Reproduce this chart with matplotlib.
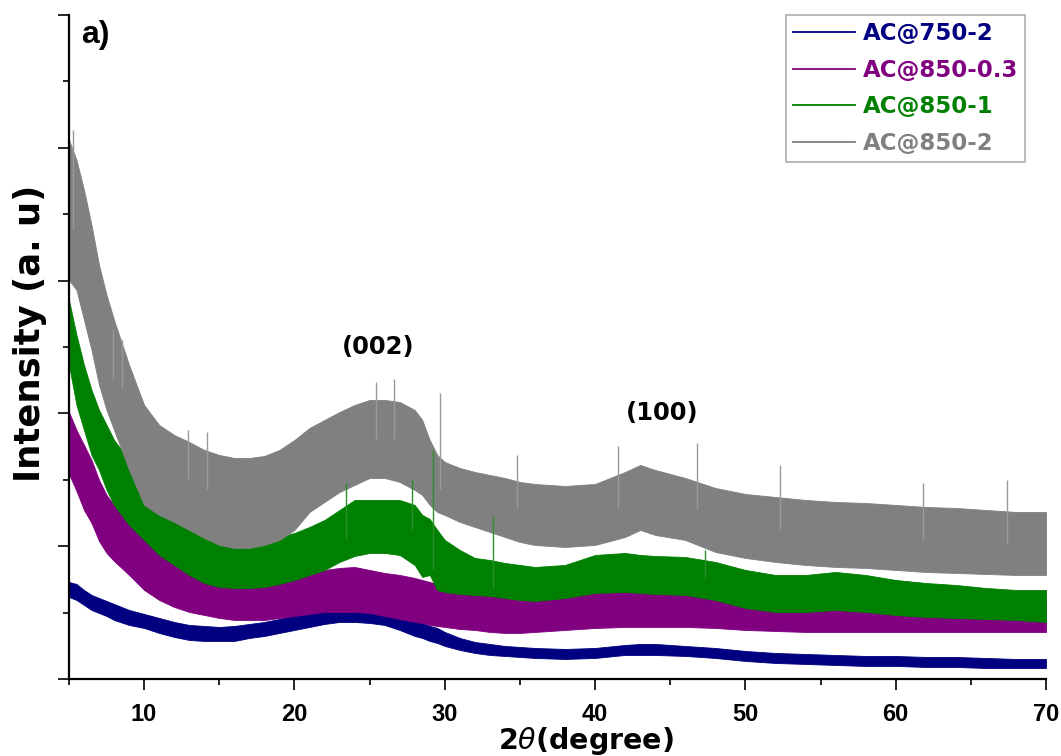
import matplotlib
matplotlib.use("Agg")
import matplotlib.pyplot as plt
from matplotlib.lines import Line2D
from matplotlib.ticker import MultipleLocator

# ---------------- data (intensity in a.u.) ----------------
two_theta = [5, 5.5, 6, 6.5, 7, 7.5, 8, 9, 10, 11, 12, 13, 14, 15, 16, 17, 18, 19, 20,
             21, 22, 23, 24, 25, 26, 27, 28, 28.5, 29, 29.5, 30, 31, 32, 33, 34, 35, 36,
             38, 40, 42, 43, 44, 46, 48, 50, 52, 54, 56, 58, 60, 62, 64, 66, 68, 70]

# AC@750-2 (noise band: upper / lower)
ac750_2_hi = [97, 95, 89, 84, 81, 78, 75, 69, 65, 61, 57, 54, 53, 52, 53, 55, 57, 60, 64,
              67, 70, 72, 72, 71, 69, 65, 59, 56, 53, 51, 47, 41, 37, 35, 33, 32, 31,
              30, 31, 34, 35, 35, 33, 31, 28, 26, 25, 24, 23, 23, 22, 22, 21, 20, 20]
ac750_2_lo = [82, 79, 74, 69, 66, 63, 59, 54, 51, 46, 42, 39, 38, 38, 38, 41, 43, 46, 49,
              52, 55, 57, 57, 56, 54, 49, 43, 41, 38, 36, 33, 29, 26, 24, 23, 22, 21,
              20, 21, 24, 24, 24, 23, 21, 18, 16, 15, 14, 13, 13, 12, 12, 11, 11, 11]

# AC@850-0.3
ac850_03_hi = [267, 249, 234, 219, 199, 184, 174, 154, 139, 129, 119, 112, 107, 104, 102, 101, 101, 102, 104,
               106, 109, 111, 112, 109, 106, 104, 101, 99, 97, 95, 93, 91, 89, 87, 86, 86, 86,
               87, 88, 89, 89, 89, 88, 86, 84, 82, 81, 81, 82, 82, 83, 84, 85, 83, 82]
ac850_03_lo = [205, 188, 169, 156, 138, 126, 118, 104, 89, 79, 72, 67, 64, 61, 59, 59, 59, 61, 63,
               65, 67, 67, 67, 66, 63, 60, 57, 56, 54, 53, 52, 50, 49, 47, 46, 46, 47,
               49, 51, 52, 52, 52, 52, 51, 49, 48, 47, 47, 47, 47, 47, 47, 47, 47, 47]

# AC@850-1
ac850_1_hi = [379, 344, 314, 289, 269, 254, 239, 219, 199, 179, 164, 154, 147, 142, 139, 138, 139, 142, 146,
              152, 159, 169, 179, 179, 179, 179, 174, 164, 160, 149, 139, 129, 121, 119, 116, 114, 112,
              114, 124, 126, 124, 123, 122, 117, 109, 104, 104, 107, 104, 99, 96, 94, 91, 89, 89]
ac850_1_lo = [314, 274, 249, 224, 209, 189, 174, 154, 139, 124, 114, 104, 96, 92, 91, 91, 92, 95, 99,
              104, 109, 117, 123, 126, 126, 124, 114, 102, 104, 89, 87, 85, 84, 83, 81, 79, 78,
              81, 86, 87, 86, 85, 84, 79, 71, 67, 67, 69, 67, 64, 62, 61, 60, 59, 57]

# AC@850-2
ac850_2_hi = [539, 519, 489, 454, 414, 384, 359, 314, 274, 254, 244, 237, 229, 224, 221, 221, 223, 229, 239,
              251, 259, 267, 274, 279, 279, 277, 269, 259, 239, 224, 217, 211, 207, 204, 201, 197, 195,
              193, 195, 207, 214, 209, 201, 191, 185, 182, 179, 177, 176, 174, 172, 171, 169, 167, 167]
ac850_2_lo = [399, 389, 359, 329, 294, 269, 249, 209, 174, 164, 157, 149, 141, 134, 131, 131, 134, 139, 149,
              167, 177, 187, 194, 201, 201, 197, 189, 184, 174, 167, 164, 157, 152, 147, 142, 137, 134,
              132, 134, 142, 149, 144, 139, 127, 121, 117, 114, 112, 111, 109, 107, 106, 105, 104, 104]

# isolated spikes rising above the noise band (position, base, top)
ac850_1_spike_x = [23.4, 27.8, 29.2, 33.2, 47.3]
ac850_1_spike_lo = [140, 150, 110, 90, 100]
ac850_1_spike_hi = [196, 199, 229, 162, 129]

ac850_2_spike_x = [5.3, 7.9, 8.5, 12.9, 14.2, 25.4, 26.6, 29.7, 34.8, 41.5, 46.8, 52.3, 61.8, 67.4]
ac850_2_spike_lo = [450, 300, 290, 200, 190, 240, 240, 190, 170, 170, 170, 150, 140, 135]
ac850_2_spike_hi = [549, 349, 339, 249, 247, 297, 300, 286, 224, 233, 236, 214, 196, 199]

series_names = ["AC@750-2", "AC@850-0.3", "AC@850-1", "AC@850-2"]
series_colors = ["#000080", "#800080", "#008000", "#808080"]

x_ticks = [10, 20, 30, 40, 50, 60, 70]
peak_labels = ["(002)", "(100)"]
peak_pos = [25.6, 44.45]
peak_h = [332, 266]

# ---------------- figure ----------------
plt.rcParams["mathtext.fontset"] = "dejavusans"
fig = plt.figure(figsize=(10.61, 7.56), dpi=100)
ax = fig.add_axes([0.065, 0.1019, 0.9209, 0.8783])

bands = [(ac750_2_lo, ac750_2_hi), (ac850_03_lo, ac850_03_hi),
         (ac850_1_lo, ac850_1_hi), (ac850_2_lo, ac850_2_hi)]
for (lo, hi), col in zip(bands, series_colors):
    ax.fill_between(two_theta, lo, hi, color=col, linewidth=0.6, edgecolor=col, zorder=2)

ax.vlines(ac850_1_spike_x, ac850_1_spike_lo, ac850_1_spike_hi, color="#2a8f2a", lw=1.0, zorder=3)
ax.vlines(ac850_2_spike_x, ac850_2_spike_lo, ac850_2_spike_hi, color="#9a9a9a", lw=1.0, zorder=3)

ax.set_xlim(5, 70)
ax.set_ylim(0, 664)

for side in ("top", "right"):
    ax.spines[side].set_visible(False)
for side in ("left", "bottom"):
    ax.spines[side].set_linewidth(1.6)

ax.set_xticks(x_ticks)
ax.xaxis.set_minor_locator(MultipleLocator(5))
ax.yaxis.set_major_locator(MultipleLocator(132.8))
ax.yaxis.set_minor_locator(MultipleLocator(66.4))
ax.set_yticklabels([])
ax.tick_params(axis="both", which="major", direction="out", length=8, width=1.2)
ax.tick_params(axis="both", which="minor", direction="out", length=4.5, width=1.2)
ax.tick_params(axis="x", which="major", pad=9)
for lab in ax.get_xticklabels():
    lab.set_fontfamily("Liberation Sans")
    lab.set_fontweight("bold")
    lab.set_fontsize(17)

fig.text(586 / 1061, 1 - 741 / 756, r"2$\theta$(degree)", ha="center", va="center",
         fontfamily="DejaVu Sans", fontweight="bold", fontsize=20.5)
fig.text(30 / 1061, 1 - 333 / 756, "Intensity (a. u)", ha="center", va="center",
         rotation=90, fontfamily="DejaVu Sans", fontweight="bold", fontsize=25.5)

for txt, xp, yp in zip(peak_labels, peak_pos, peak_h):
    ax.text(xp, yp, txt, ha="center", va="center", fontfamily="DejaVu Sans",
            fontweight="bold", fontsize=17.5, color="black")

ax.text(0.0266, 0.97, "a)", transform=ax.transAxes, ha="center", va="center",
        fontfamily="Liberation Sans", fontweight="bold", fontsize=23)

handles = [Line2D([], [], color=c, lw=1.3) for c in series_colors]
leg = ax.legend(handles, series_names, loc="upper right", bbox_to_anchor=(0.9785, 1.0),
                borderaxespad=0, frameon=True, fancybox=False, handlelength=2.7,
                handletextpad=0.35, labelspacing=0.6, borderpad=0.3,
                prop={"family": "DejaVu Sans", "weight": "bold", "size": 16.5})
leg.get_frame().set_edgecolor("#999999")
leg.get_frame().set_linewidth(1.2)
for t, c in zip(leg.get_texts(), series_colors):
    t.set_color(c)

fig.savefig("out.png", dpi=100)
